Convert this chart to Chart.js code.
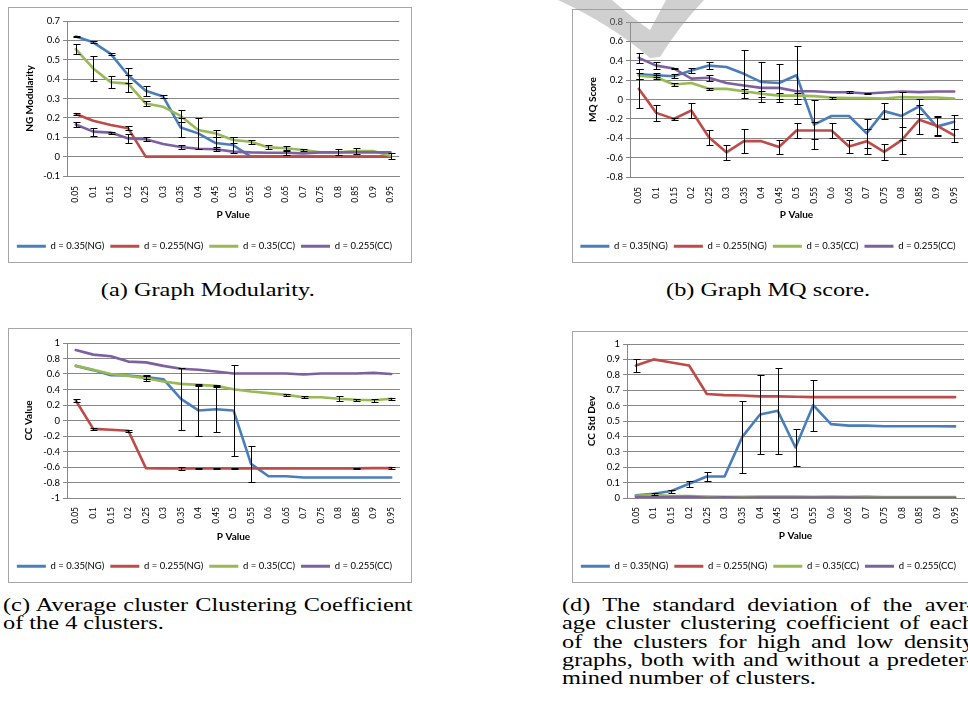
<!DOCTYPE html>
<html>
<head>
<meta charset="utf-8">
<script src="https://cdn.jsdelivr.net/npm/chart.js@4.4.0/dist/chart.umd.min.js"></script>
<style>
    html, body { margin: 0; padding: 0; background: #fff; width: 968px; height: 722px; overflow: hidden; }
    .frame { position: absolute; border: 1px solid #a6a6a6; background: #fff; }
    .frame canvas { display: block; }
    .cap {
        position: absolute;
        font-family: "Liberation Serif", "Times New Roman", serif;
        font-size: 19px;
        line-height: 18.3px;
        color: #000;
        transform-origin: 0 0;
        transform: scaleX(1.28);
    }
    .cap div { white-space: nowrap; }
    .cap .j { text-align: justify; text-align-last: justify; }
    #mark { position: absolute; left: 0; top: 0; pointer-events: none; }
</style>
</head>
<body>

<div class="frame" style="left:8px;top:7px;"><canvas id="chartA" width="402" height="254"></canvas></div>
<div class="frame" style="left:572px;top:9px;"><canvas id="chartB" width="402" height="252"></canvas></div>
<div class="frame" style="left:8px;top:328px;"><canvas id="chartC" width="402" height="253"></canvas></div>
<div class="frame" style="left:572px;top:331px;"><canvas id="chartD" width="402" height="250"></canvas></div>

<div class="cap" style="left:3px;top:281px;width:320px;text-align:center;">(a) Graph Modularity.</div>
<div class="cap" style="left:562px;top:281px;width:322px;text-align:center;">(b) Graph MQ score.</div>
<div class="cap" style="left:3px;top:596px;width:320px;">
    <div class="j">(c) Average cluster Clustering Coefficient</div>
    <div>of the 4 clusters.</div>
</div>
<div class="cap" style="left:562px;top:596px;width:322px;">
    <div class="j">(d) The standard deviation of the aver-</div>
    <div class="j">age cluster clustering coefficient of each</div>
    <div class="j">of the clusters for high and low density</div>
    <div class="j">graphs, both with and without a predeter-</div>
    <div>mined number of clusters.</div>
</div>

<svg id="mark" width="968" height="722">
    <path d="M558,0 L612,0 Q635,20 650,30 L666,0 L704,0 Q680,25 660,57 L650,58 Q612,25 558,0 Z"
          fill="rgba(150,150,150,0.45)"/>
</svg>

<script>
// ===================== DATA =====================
const pValues = ['0.05', '0.1', '0.15', '0.2', '0.25', '0.3', '0.35', '0.4', '0.45', '0.5',
                 '0.55', '0.6', '0.65', '0.7', '0.75', '0.8', '0.85', '0.9', '0.95'];
const seriesNames = ['d = 0.35(NG)', 'd = 0.255(NG)', 'd = 0.35(CC)', 'd = 0.255(CC)'];
const seriesColors = ['#4a7ebb', '#be4b48', '#98b954', '#7d60a0'];

// (a) NG Modularity
const modNG35  = [0.62, 0.59, 0.53, 0.42, 0.34, 0.31, 0.15, 0.12, 0.07, 0.06, 0, 0, 0, 0, 0, 0, 0, 0, 0];
const modNG255 = [0.22, 0.185, 0.163, 0.146, 0, 0, 0, 0, 0, 0, 0, 0, 0, 0, 0, 0, 0, 0, 0];
const modCC35  = [0.555, 0.455, 0.384, 0.377, 0.274, 0.257, 0.21, 0.137, 0.12, 0.086, 0.077, 0.048, 0.043, 0.034, 0.022, 0.022, 0.029, 0.029, 0.005];
const modCC255 = [0.166, 0.129, 0.124, 0.094, 0.09, 0.065, 0.05, 0.041, 0.038, 0.026, 0.022, 0.02, 0.02, 0.017, 0.022, 0.022, 0.022, 0.022, 0.022];
const modErrNG35  = [0.005, 0.005, 0.005, 0.04, 0.025, 0.01, 0.05, 0.08, 0.03, 0.04, 0, 0, 0, 0, 0, 0, 0, 0, 0];
const modErrNG255 = [0.005, 0, 0, 0.01, 0, 0, 0, 0, 0, 0, 0, 0, 0, 0, 0, 0, 0, 0, 0];
const modErrCC35  = [0.025, 0.063, 0.03, 0.045, 0.015, 0, 0.03, 0, 0.02, 0.015, 0.01, 0.01, 0.01, 0.005, 0, 0.015, 0.015, 0, 0.015];
const modErrCC255 = [0.015, 0.02, 0.005, 0.025, 0.01, 0, 0.01, 0, 0.01, 0, 0, 0, 0.01, 0, 0, 0, 0, 0, 0];

// (b) MQ Score
const mqNG35  = [0.26, 0.25, 0.24, 0.30, 0.35, 0.335, 0.265, 0.18, 0.17, 0.25, -0.26, -0.17, -0.17, -0.35, -0.12, -0.17, -0.07, -0.28, -0.23];
const mqNG255 = [0.11, -0.138, -0.2, -0.114, -0.39, -0.545, -0.43, -0.43, -0.49, -0.32, -0.32, -0.32, -0.486, -0.43, -0.54, -0.42, -0.21, -0.27, -0.37];
const mqCC35  = [0.245, 0.23, 0.155, 0.17, 0.11, 0.11, 0.085, 0.06, 0.04, 0.04, 0.035, 0.02, 0.015, 0.015, 0.01, 0.025, 0.02, 0.02, 0.01];
const mqCC255 = [0.43, 0.35, 0.32, 0.215, 0.225, 0.17, 0.145, 0.12, 0.12, 0.085, 0.085, 0.075, 0.075, 0.062, 0.072, 0.083, 0.076, 0.083, 0.083];
const mqErrNG35  = [0.05, 0.02, 0.02, 0.03, 0.04, 0, 0.25, 0.21, 0.2, 0.3, 0.25, 0, 0, 0.15, 0.08, 0.25, 0.08, 0.1, 0.07];
const mqErrNG255 = [0.2, 0.08, 0.01, 0.075, 0.08, 0.08, 0.125, 0, 0.07, 0.075, 0.09, 0.075, 0.07, 0.13, 0.08, 0.14, 0.15, 0.1, 0.07];
const mqErrCC35  = [0.03, 0.02, 0.015, 0, 0.01, 0, 0.02, 0.03, 0.03, 0.03, 0, 0.01, 0, 0, 0, 0, 0, 0, 0];
const mqErrCC255 = [0.055, 0.04, 0.01, 0, 0.03, 0, 0, 0, 0, 0, 0, 0, 0.01, 0.01, 0, 0, 0, 0, 0];

// (c) CC Value
const ccNG35  = [0.705, 0.65, 0.585, 0.58, 0.56, 0.533, 0.28, 0.13, 0.146, 0.13, -0.56, -0.72, -0.72, -0.735, -0.735, -0.735, -0.735, -0.735, -0.735];
const ccNG255 = [0.258, -0.108, -0.12, -0.133, -0.615, -0.618, -0.62, -0.62, -0.62, -0.62, -0.62, -0.62, -0.62, -0.62, -0.62, -0.62, -0.618, -0.615, -0.615];
const ccCC35  = [0.705, 0.654, 0.60, 0.576, 0.546, 0.503, 0.473, 0.46, 0.447, 0.404, 0.374, 0.353, 0.331, 0.30, 0.30, 0.28, 0.267, 0.262, 0.28];
const ccCC255 = [0.91, 0.85, 0.83, 0.76, 0.75, 0.705, 0.667, 0.654, 0.632, 0.606, 0.606, 0.606, 0.606, 0.593, 0.606, 0.606, 0.606, 0.615, 0.60];
const ccErrNG35  = [0, 0, 0, 0, 0.03, 0, 0.4, 0.33, 0.3, 0.59, 0.23, 0, 0, 0, 0, 0, 0, 0, 0];
const ccErrNG255 = [0.02, 0.015, 0, 0.015, 0, 0, 0.02, 0.01, 0.01, 0.01, 0, 0, 0, 0, 0, 0, 0.01, 0, 0.01];
const ccErrCC35  = [0, 0, 0, 0, 0.03, 0, 0, 0.01, 0.01, 0, 0, 0, 0.01, 0.01, 0, 0.03, 0.01, 0.02, 0.01];
const ccErrCC255 = [0, 0, 0, 0, 0, 0, 0, 0, 0, 0, 0, 0, 0, 0, 0, 0, 0, 0, 0];

// (d) CC Std Dev
const sdNG35  = [0.017, 0.028, 0.045, 0.093, 0.14, 0.14, 0.397, 0.542, 0.566, 0.328, 0.603, 0.48, 0.47, 0.47, 0.466, 0.466, 0.466, 0.466, 0.465];
const sdNG255 = [0.86, 0.90, 0.88, 0.86, 0.675, 0.668, 0.666, 0.66, 0.66, 0.657, 0.655, 0.655, 0.655, 0.655, 0.655, 0.655, 0.655, 0.655, 0.655];
const sdCC35  = [0.015, 0.02, 0.012, 0.012, 0.01, 0.008, 0.007, 0.01, 0.01, 0.01, 0.007, 0.009, 0.007, 0.01, 0.006, 0.006, 0.006, 0.006, 0.006];
const sdCC255 = [0.008, 0.004, 0.006, 0.008, 0.002, 0.004, 0.002, 0.003, 0.003, 0.003, 0.003, 0.003, 0.003, 0.002, 0.002, 0.002, 0.002, 0.002, 0.002];
const sdErrNG35  = [0, 0.007, 0.01, 0.02, 0.03, 0, 0.235, 0.256, 0.28, 0.12, 0.165, 0, 0, 0, 0, 0, 0, 0, 0];
const sdErrNG255 = [0.04, 0, 0, 0, 0, 0, 0, 0, 0, 0, 0, 0, 0, 0, 0, 0, 0, 0, 0];
const sdErrCC35  = [0, 0, 0, 0, 0, 0, 0, 0, 0, 0, 0, 0, 0, 0, 0, 0, 0, 0, 0];
const sdErrCC255 = [0, 0, 0, 0, 0, 0, 0, 0, 0, 0, 0, 0, 0, 0, 0, 0, 0, 0, 0];

// ===================== STYLE =====================
const FONT = 'Lato, "Liberation Sans", sans-serif';
const FS_Y = 9.5;      // y tick labels
const FS_X = 8.5;      // rotated x tick labels
const FS_LEG = 9.5;    // legend
const FS_TITLE = 10;   // axis titles (bold)
const LEG_PAD = 6;
const PAD_B = 1;
const AXIS = '#878787';

// Error bars drawn through the y scale
const errorBars = {
    id: 'errorBars',
    afterDatasetsDraw(chart) {
        const ctx = chart.ctx;
        const y = chart.scales.y;
        ctx.save();
        ctx.strokeStyle = '#000';
        ctx.lineWidth = 1;
        chart.data.datasets.forEach(function(ds, di) {
            const meta = chart.getDatasetMeta(di);
            meta.data.forEach(function(pt, i) {
                const e = ds.errors[i];
                if (!e) return;
                const x = Math.round(pt.x) + 0.5;
                const top = Math.round(y.getPixelForValue(ds.data[i] + e)) + 0.5;
                const bot = Math.round(y.getPixelForValue(ds.data[i] - e)) + 0.5;
                ctx.beginPath();
                ctx.moveTo(x, top); ctx.lineTo(x, bot);
                ctx.moveTo(x - 3, top); ctx.lineTo(x + 4, top);
                ctx.moveTo(x - 3, bot); ctx.lineTo(x + 4, bot);
                ctx.stroke();
            });
        });
        ctx.restore();
    }
};

function tickLabel(v) {
    return String(Math.round(v * 10) / 10);
}

function makeChart(canvasId, g, yAxis, values, errors) {
    const canvas = document.getElementById(canvasId);
    const W = canvas.width, H = canvas.height;
    const legendH = FS_LEG + LEG_PAD + 10;

    return new Chart(canvas, {
        type: 'line',
        data: {
            labels: pValues,
            datasets: seriesNames.map(function(name, i) {
                return {
                    label: name,
                    data: values[i],
                    errors: errors[i],
                    borderColor: seriesColors[i],
                    backgroundColor: seriesColors[i],
                    borderWidth: 2.6,
                    pointRadius: 0,
                    pointHoverRadius: 0,
                    tension: 0,
                    borderJoinStyle: 'round',
                    borderCapStyle: 'round',
                    order: 3 - i
                };
            })
        },
        options: {
            responsive: false,
            animation: false,
            devicePixelRatio: 1,
            layout: { padding: { left: 0, right: W - g.right, top: g.top, bottom: PAD_B } },
            plugins: {
                tooltip: { enabled: false },
                legend: {
                    position: 'bottom',
                    labels: {
                        color: '#000',
                        font: { family: FONT, size: FS_LEG },
                        boxWidth: 29,
                        boxHeight: 3,
                        padding: LEG_PAD,
                        sort: function(a, b) { return a.datasetIndex - b.datasetIndex; },
                        generateLabels: function(chart) {
                            return Chart.defaults.plugins.legend.labels.generateLabels(chart).map(function(l) {
                                l.lineWidth = 0;
                                return l;
                            });
                        }
                    }
                }
            },
            scales: {
                x: {
                    type: 'category',
                    offset: true,
                    grid: { display: false, drawTicks: false },
                    border: { color: AXIS, width: 1 },
                    ticks: {
                        color: '#000',
                        font: { family: FONT, size: FS_X },
                        minRotation: 90,
                        maxRotation: 90,
                        autoSkip: false,
                        padding: g.xGap
                    },
                    title: {
                        display: true,
                        text: 'P Value',
                        color: '#000',
                        font: { family: FONT, size: FS_TITLE, weight: 'bold' },
                        padding: { top: 0, bottom: H - PAD_B - legendH - g.xTitle - FS_TITLE * 0.6 }
                    },
                    afterFit: function(s) {
                        s.height = H - PAD_B - s.chart.legend.height - g.bottom;
                    }
                },
                y: {
                    min: yAxis.min,
                    max: yAxis.max,
                    grid: { color: AXIS, tickColor: AXIS, tickLength: 4, drawTicks: true },
                    border: { color: AXIS, width: 1 },
                    ticks: {
                        stepSize: yAxis.step,
                        color: '#000',
                        font: { family: FONT, size: FS_Y },
                        padding: 3,
                        callback: tickLabel
                    },
                    title: {
                        display: true,
                        text: yAxis.title,
                        color: '#000',
                        font: { family: FONT, size: FS_TITLE, weight: 'bold' },
                        padding: { top: g.yTitle - FS_TITLE * 0.6, bottom: 0 }
                    },
                    afterFit: function(s) {
                        s.width = g.left;
                    }
                }
            }
        },
        plugins: [errorBars]
    });
}

makeChart('chartA',
    { left: 58, right: 391, top: 13, bottom: 168, yTitle: 21, xTitle: 207, xGap: 10 },
    { min: -0.1, max: 0.7, step: 0.1, title: 'NG Modularity' },
    [modNG35, modNG255, modCC35, modCC255],
    [modErrNG35, modErrNG255, modErrCC35, modErrCC255]);

makeChart('chartB',
    { left: 57, right: 390, top: 12, bottom: 167, yTitle: 20, xTitle: 205, xGap: 10 },
    { min: -0.8, max: 0.8, step: 0.2, title: 'MQ Score' },
    [mqNG35, mqNG255, mqCC35, mqCC255],
    [mqErrNG35, mqErrNG255, mqErrCC35, mqErrCC255]);

makeChart('chartC',
    { left: 58, right: 391, top: 14, bottom: 169, yTitle: 20, xTitle: 208, xGap: 9 },
    { min: -1, max: 1, step: 0.2, title: 'CC Value' },
    [ccNG35, ccNG255, ccCC35, ccCC255],
    [ccErrNG35, ccErrNG255, ccErrCC35, ccErrCC255]);

makeChart('chartD',
    { left: 54, right: 391, top: 12, bottom: 166, yTitle: 19, xTitle: 204, xGap: 9 },
    { min: 0, max: 1, step: 0.1, title: 'CC Std Dev' },
    [sdNG35, sdNG255, sdCC35, sdCC255],
    [sdErrNG35, sdErrNG255, sdErrCC35, sdErrCC255]);
</script>
</body>
</html>
